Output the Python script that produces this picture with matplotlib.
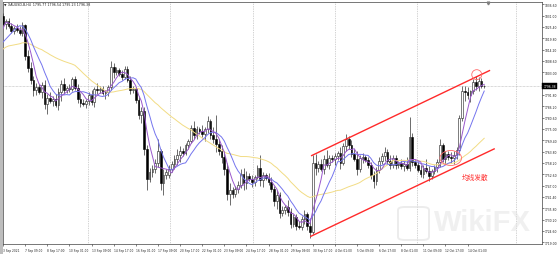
import matplotlib
matplotlib.use("Agg")
import matplotlib.pyplot as plt
import matplotlib.transforms as mtransforms
from matplotlib.patches import Ellipse, Rectangle, FancyBboxPatch
import numpy as np
import pandas as pd

# ---------------- data (XAUUSD H4) ----------------
opens = [1831.0, 1827.0, 1828.5, 1826.0, 1823.5, 1825.0, 1824.0, 1822.5, 1826.5, 1811.0, 1805.0, 1799.0,
         1794.0, 1795.5, 1793.0, 1796.5, 1787.5, 1790.5,
         1789.0, 1790.0, 1787.0, 1793.0, 1797.0, 1794.0,
         1795.0, 1794.5, 1799.5, 1795.0, 1790.0, 1788.0,
         1787.5, 1789.0, 1791.5, 1788.5, 1794.5, 1794.0,
         1794.5, 1792.5, 1793.0, 1795.5, 1805.5, 1803.0,
         1804.0, 1802.0, 1800.5, 1804.5, 1799.0, 1794.0,
         1794.5, 1789.5, 1782.0, 1784.0, 1765.0, 1750.0,
         1753.5, 1755.0, 1758.0, 1764.0, 1748.0, 1752.0,
         1752.0, 1755.0, 1757.5, 1760.0, 1762.0, 1764.0,
         1763.0, 1767.0, 1769.0, 1775.5, 1772.0, 1775.0,
         1774.0, 1772.5, 1775.0, 1779.0, 1772.0, 1770.0,
         1767.5, 1764.0, 1761.0, 1755.0, 1743.0, 1745.0,
         1743.0, 1745.5, 1747.5, 1752.5, 1748.0, 1751.5,
         1750.0, 1748.5, 1751.0, 1755.5, 1749.5, 1752.0,
         1750.5, 1748.5, 1745.5, 1739.5, 1742.5, 1733.5,
         1735.0, 1736.5, 1734.0, 1728.0, 1731.5, 1727.0,
         1726.5, 1730.5, 1733.0, 1727.0, 1724.0, 1758.0,
         1755.5, 1757.5, 1755.0, 1760.0, 1757.0, 1760.5,
         1760.0, 1761.5, 1763.0, 1758.0, 1766.5, 1770.0,
         1767.0, 1762.5, 1760.0, 1755.0, 1760.5, 1761.0,
         1759.5, 1757.0, 1752.0, 1749.0, 1754.5, 1759.0,
         1761.5, 1763.5, 1759.0, 1757.0, 1760.5, 1757.0,
         1758.0, 1756.5, 1757.5, 1755.5, 1771.0, 1758.5,
         1757.0, 1754.5, 1752.5, 1755.5, 1754.0, 1751.5,
         1754.0, 1756.0, 1758.5, 1767.0, 1760.0, 1762.5,
         1761.0, 1760.5, 1762.0, 1764.5, 1780.5, 1793.5,
         1793.0, 1791.5, 1793.5, 1798.0, 1796.0, 1798.5, 1796.0]

highs = [1832.5, 1829.5, 1829.8, 1827.5, 1826.0, 1827.0, 1826.0, 1828.0, 1827.0, 1814.0, 1808.0, 1801.0,
         1797.5, 1797.0, 1798.0, 1799.0, 1792.0, 1793.0,
         1791.0, 1792.0, 1795.0, 1799.0, 1800.0, 1796.0,
         1797.0, 1800.5, 1801.0, 1797.0, 1792.5, 1790.0,
         1790.0, 1793.0, 1794.0, 1795.5, 1797.5, 1796.0,
         1796.0, 1794.0, 1796.5, 1808.5, 1807.5, 1805.5,
         1805.0, 1804.0, 1806.0, 1806.0, 1801.0, 1796.0,
         1795.5, 1791.0, 1786.0, 1786.0, 1767.0, 1755.5,
         1757.0, 1760.0, 1770.0, 1765.0, 1755.0, 1755.0,
         1757.0, 1759.0, 1762.0, 1765.0, 1766.5, 1765.5,
         1768.0, 1770.0, 1777.0, 1779.0, 1776.5, 1776.0,
         1777.0, 1776.0, 1781.5, 1780.0, 1776.0, 1782.0,
         1770.0, 1767.0, 1764.0, 1758.0, 1748.0, 1746.5,
         1747.0, 1749.0, 1755.0, 1755.5, 1754.0, 1753.0,
         1752.0, 1752.0, 1757.0, 1762.0, 1753.5, 1753.0,
         1753.0, 1751.0, 1747.0, 1745.0, 1744.0, 1737.0,
         1737.5, 1740.0, 1736.0, 1733.0, 1733.0, 1729.5,
         1732.0, 1735.0, 1734.0, 1731.0, 1762.0, 1762.5,
         1759.0, 1760.0, 1762.0, 1764.5, 1762.0, 1762.0,
         1763.0, 1764.0, 1766.0, 1768.0, 1772.5, 1771.5,
         1769.5, 1765.0, 1764.0, 1762.0, 1763.0, 1762.0,
         1761.0, 1758.5, 1754.0, 1756.0, 1761.0, 1763.0,
         1766.0, 1765.0, 1762.0, 1762.0, 1762.0, 1759.0,
         1760.0, 1759.0, 1761.0, 1781.0, 1773.0, 1760.0,
         1759.0, 1757.0, 1757.0, 1760.0, 1756.5, 1755.0,
         1757.0, 1760.0, 1770.0, 1768.0, 1764.0, 1764.0,
         1763.5, 1764.0, 1766.0, 1782.0, 1796.0, 1796.0,
         1795.5, 1794.0, 1799.5, 1801.0, 1800.5, 1800.0, 1796.8]

lows = [1826.0, 1824.5, 1825.0, 1822.5, 1822.0, 1823.0, 1821.5, 1821.0, 1809.0, 1803.0, 1797.0, 1791.0,
        1791.5, 1792.0, 1790.5, 1785.0, 1782.5, 1788.0,
        1786.5, 1786.0, 1784.5, 1789.0, 1792.0, 1792.5,
        1793.0, 1793.5, 1794.0, 1788.0, 1786.0, 1786.5,
        1785.5, 1787.0, 1787.0, 1786.0, 1792.0, 1792.5,
        1791.5, 1790.0, 1791.0, 1794.0, 1800.0, 1801.5,
        1801.0, 1799.0, 1799.5, 1798.0, 1792.0, 1792.5,
        1788.0, 1780.0, 1778.0, 1762.0, 1745.0, 1748.5,
        1751.0, 1753.0, 1756.0, 1745.0, 1742.5, 1750.0,
        1750.5, 1753.5, 1755.0, 1757.0, 1758.5, 1761.5,
        1762.0, 1765.0, 1768.0, 1770.0, 1770.0, 1772.5,
        1771.0, 1769.0, 1773.0, 1770.0, 1768.0, 1763.5,
        1762.0, 1758.0, 1752.0, 1740.0, 1737.5, 1741.0,
        1741.5, 1743.5, 1746.0, 1745.0, 1745.5, 1749.0,
        1746.5, 1747.0, 1750.0, 1747.0, 1746.5, 1749.5,
        1747.5, 1744.0, 1737.0, 1735.5, 1731.0, 1732.0,
        1733.0, 1732.0, 1726.0, 1726.5, 1725.0, 1725.5,
        1725.0, 1728.0, 1725.0, 1721.0, 1723.0, 1752.0,
        1753.5, 1754.0, 1752.5, 1756.0, 1755.0, 1758.5,
        1757.0, 1759.5, 1755.0, 1757.0, 1764.0, 1765.0,
        1761.0, 1759.0, 1752.0, 1753.5, 1758.0, 1758.5,
        1755.5, 1750.0, 1746.0, 1747.5, 1753.0, 1757.5,
        1759.0, 1757.5, 1755.0, 1755.5, 1755.0, 1755.5,
        1755.0, 1754.0, 1754.5, 1754.0, 1756.5, 1755.5,
        1753.5, 1751.0, 1750.5, 1753.0, 1749.0, 1750.0,
        1752.5, 1753.5, 1756.0, 1758.5, 1757.5, 1759.5,
        1758.0, 1757.5, 1760.0, 1762.0, 1779.0, 1789.0,
        1790.0, 1788.5, 1792.0, 1794.0, 1793.5, 1795.0, 1795.2]

closes = [1827.0, 1828.5, 1826.0, 1823.5, 1825.0, 1824.0, 1822.5, 1826.5, 1811.0, 1805.0, 1799.0, 1794.0,
          1795.5, 1793.0, 1796.5, 1787.5, 1790.5, 1789.0,
          1790.0, 1787.0, 1793.0, 1797.0, 1794.0, 1795.0,
          1794.5, 1799.5, 1795.0, 1790.0, 1788.0, 1787.5,
          1789.0, 1791.5, 1788.5, 1794.5, 1794.0, 1794.5,
          1792.5, 1793.0, 1795.5, 1805.5, 1803.0, 1804.0,
          1802.0, 1800.5, 1804.5, 1799.0, 1794.0, 1794.5,
          1789.5, 1782.0, 1784.0, 1765.0, 1750.0, 1753.5,
          1755.0, 1758.0, 1764.0, 1748.0, 1752.0, 1753.5,
          1755.0, 1757.5, 1760.0, 1762.0, 1764.0, 1763.0,
          1767.0, 1769.0, 1775.5, 1772.0, 1775.0, 1774.0,
          1772.5, 1775.0, 1779.0, 1772.0, 1770.0, 1767.5,
          1764.0, 1761.0, 1755.0, 1743.0, 1745.0, 1743.0,
          1745.5, 1747.5, 1752.5, 1748.0, 1751.5, 1750.0,
          1748.5, 1751.0, 1755.5, 1749.5, 1752.0, 1750.5,
          1748.5, 1745.5, 1739.5, 1742.5, 1733.5, 1735.0,
          1736.5, 1734.0, 1728.0, 1731.5, 1727.0, 1726.5,
          1730.5, 1733.0, 1727.0, 1724.0, 1758.0, 1755.5,
          1757.5, 1755.0, 1760.0, 1757.0, 1760.5, 1760.0,
          1761.5, 1763.0, 1758.0, 1766.5, 1770.0, 1767.0,
          1762.5, 1760.0, 1755.0, 1760.5, 1761.0, 1759.5,
          1757.0, 1752.0, 1749.0, 1754.5, 1759.0, 1761.5,
          1763.5, 1759.0, 1757.0, 1760.5, 1757.0, 1758.0,
          1756.5, 1757.5, 1755.5, 1771.0, 1758.5, 1757.0,
          1754.5, 1752.5, 1755.5, 1754.0, 1751.5, 1754.0,
          1756.0, 1758.5, 1767.0, 1760.0, 1762.5, 1761.0,
          1760.5, 1762.0, 1764.5, 1780.5, 1793.5, 1793.0,
          1791.5, 1793.5, 1798.0, 1796.0, 1798.5, 1796.0, 1796.38]

# closes before the visible window (used only to seed the moving averages)
history_closes = [1795, 1800, 1808, 1815, 1818, 1816, 1814, 1812, 1810, 1813,
                  1815, 1817, 1816, 1813, 1811, 1814, 1813, 1815, 1812, 1810,
                  1812, 1814, 1811, 1809, 1810, 1812, 1813, 1828, 1826, 1829]

x_tick_bars = [0, 8, 16, 24, 32, 40, 48, 56, 64, 72, 80, 88, 96, 104, 112, 120, 128, 136, 144, 152, 160, 168]
x_tick_labels = ["3 Sep 2021", "7 Sep 09:00", "8 Sep 17:00", "10 Sep 01:00", "13 Sep 09:00", "14 Sep 17:00",
                 "16 Sep 01:00", "17 Sep 09:00", "20 Sep 17:00", "22 Sep 01:00", "23 Sep 09:00", "24 Sep 17:00",
                 "28 Sep 01:00", "29 Sep 09:00", "30 Sep 17:00", "4 Oct 01:00", "5 Oct 09:00", "6 Oct 17:00",
                 "8 Oct 01:00", "11 Oct 09:00", "12 Oct 17:00", "14 Oct 01:00"]
y_tick_values = [1836.60, 1831.00, 1825.40, 1819.80, 1814.20, 1808.60, 1803.00, 1797.40, 1791.80, 1786.20,
                 1780.60, 1775.00, 1769.40, 1763.80, 1758.20, 1752.60, 1747.00, 1741.40, 1735.80, 1730.20,
                 1724.60, 1719.00]

# trend channel anchors (bar index, price)
channel_upper_bars = [111.6, 175.9]
channel_upper_prices = [1761.8, 1803.8]
channel_lower_bars = [111.3, 177.6]
channel_lower_prices = [1721.9, 1765.1]
annotation_text = "均线发散"
header_text = "XAUUSD-B,H4  1795.77 1796.54 1795.23 1796.38"

# ---------------- figure ----------------
W, H = 558, 255
fig = plt.figure(figsize=(W / 100, H / 100), dpi=100)
fig.patch.set_facecolor("white")
ax = fig.add_axes([2.5 / W, 10 / H, (542 - 2.5) / W, 242 / H])
ax.set_facecolor("white")

o = np.array(opens); h = np.array(highs); l = np.array(lows); c = np.array(closes)
idx = np.arange(len(c))
up = c >= o

# moving averages
full = pd.Series(history_closes + closes)
nh = len(history_closes)
ma_fast = full.rolling(5).mean().values[nh:]
ma_mid = full.rolling(10).mean().values[nh:]
ma_slow = full.rolling(30).mean().values[nh:]

# grid (weekly separators)
for gx in [30.7, 60.4, 90.4, 120.1, 149.8, 185.5]:
    ax.axvline(gx, color="#a8a8a8", lw=0.5, ls=(0, (1, 1.5)), zorder=0)

# bid line
ax.axhline(c[-1], color="#b4b4b4", lw=0.5, ls=(0, (1, 1)), zorder=0)

# candles
ax.vlines(idx, l, h, color="#1a1a1a", lw=0.45, zorder=2)
bottom = np.minimum(o, c)
height = np.maximum(np.abs(c - o), 0.2)
ax.bar(idx[up], height[up], 0.62, bottom=bottom[up], facecolor="white",
       edgecolor="#1a1a1a", linewidth=0.4, zorder=3)
ax.bar(idx[~up], height[~up], 0.62, bottom=bottom[~up], facecolor="black",
       edgecolor="black", linewidth=0.4, zorder=3)

# moving averages
ax.plot(idx, ma_slow, color="#f2dc84", lw=0.7, zorder=4)
ax.plot(idx, ma_mid, color="#7474ee", lw=0.7, zorder=4)
ax.plot(idx, ma_fast, color="#9a58cc", lw=0.7, zorder=4)

# trend channel
ax.plot(channel_upper_bars, channel_upper_prices, color="#ff2a2a", lw=1.0, zorder=5)
ax.plot(channel_lower_bars, channel_lower_prices, color="#ff2a2a", lw=1.0, zorder=5)
ax.add_patch(Ellipse((171.3, 1801.8), 3.6, 4.9, fill=False, ec="#ff6b6b", lw=0.6, zorder=5))
ax.add_patch(Ellipse((161.9, 1760.6), 7.8, 7.4, fill=False, ec="#ff6b6b", lw=0.6, zorder=5))
ax.text(170.7, 1751.1, annotation_text, color="#ff3030", fontsize=4.8,
        family=["Noto Sans CJK SC", "DejaVu Sans"], ha="center", va="center", zorder=6)

ax.set_xlim(-0.2, 194.9)
ax.set_ylim(1718.1, 1837.7)

# axes styling
for s in ax.spines.values():
    s.set_color("#404040")
    s.set_linewidth(0.5)
ax.set_xticks(x_tick_bars)
ax.set_xticklabels(x_tick_labels, fontsize=2.1, ha="left", color="#202020")
ax.tick_params(axis="x", length=1.5, width=0.4, pad=1.5, direction="out", colors="#202020")
ax.yaxis.tick_right()
ax.set_yticks(y_tick_values)
ax.set_yticklabels(["%.2f" % v for v in y_tick_values], fontsize=2.2, color="#202020")
ax.tick_params(axis="y", length=1.2, width=0.4, pad=0.8, direction="out", colors="#202020")

# bid price label
trans = mtransforms.blended_transform_factory(ax.transAxes, ax.transData)
ax.text(1.0025, c[-1], "%.2f" % c[-1], transform=trans, fontsize=2.2, color="white",
        va="center", ha="left", zorder=10, clip_on=False,
        bbox=dict(boxstyle="square,pad=0.3", fc="black", ec="black", lw=0.3))

# chart shift marker
ax.plot([175.4], [1837.2], marker="v", ms=2, color="#808080", clip_on=False, zorder=7)

# header
fig.text(7.5 / W, 1 - 5.5 / H, header_text, fontsize=2.3, va="center", ha="left", color="#202020")
fig.text(4.0 / W, 1 - 5.5 / H, "\u25bc", fontsize=2.3, va="center", ha="left", color="#202020")

# left border strip
fig.add_artist(Rectangle((0, 0), 2.5 / W, 1, transform=fig.transFigure, fc="#bdbdbd", ec="none"))

# watermark (faint)
fig.add_artist(FancyBboxPatch((398 / W, 1 - 241 / H), 31 / W, 33 / H,
                              boxstyle="round,pad=0.0,rounding_size=0.012",
                              transform=fig.transFigure, fc="none", ec="#e0e0e0", lw=1.4, alpha=0.6))
fig.text(434 / W, 1 - 223 / H, "WikiFX", fontsize=21, weight="bold", color="#e2e2e2",
         alpha=0.5, ha="left", va="center", family="Liberation Sans")

fig.savefig("out.png", dpi=100, facecolor="white")
